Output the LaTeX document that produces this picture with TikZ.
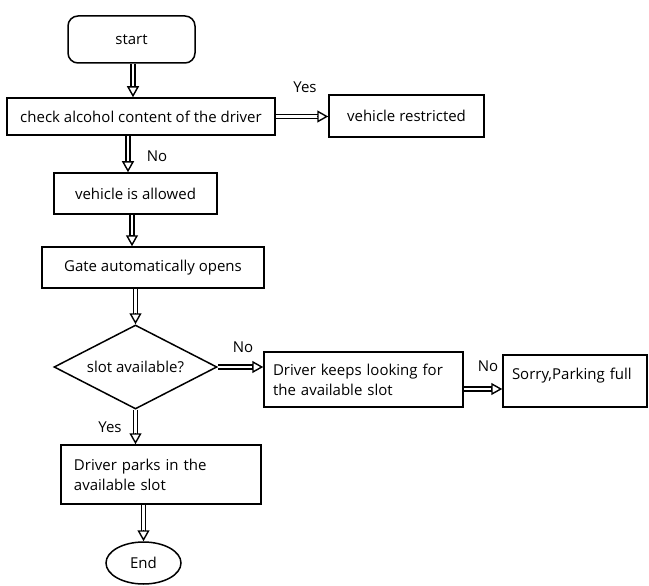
\documentclass[tikz,border=0pt]{standalone}
\usepackage{fontspec}
\setmainfont{Open Sans}
\usetikzlibrary{arrows.meta,calc,shapes.geometric}
\tikzset{
  box/.style={draw,line width=1.5pt,inner sep=0pt,font=\fontsize{15}{20}\selectfont},
  lbl/.style={font=\fontsize{15}{18}\selectfont,inner sep=0pt},
  shaft/.style={draw,line width=1.4pt,double=white,double distance=2.4pt,shorten >=10.5pt},
  headtip/.style={draw,line width=1.4pt,-{Triangle[open,length=11pt,width=12pt]}}
}
\newcommand\harr[2]{\draw[shaft] #1 -- #2; \draw[headtip] ($#2!11pt!#1$) -- #2;}
\begin{document}
\begin{tikzpicture}[x=1pt,y=-1pt]
\useasboundingbox (0,0) rectangle (649,586);
\node[box,rounded corners=10pt,minimum width=127pt,minimum height=47pt] (start) at (131.5,39.5) {start};
\node[box,minimum width=268pt,minimum height=37pt] (check) at (141,116.5) {check alcohol content of the driver};
\node[box,minimum width=155pt,minimum height=42pt] (restr) at (406.5,116) {vehicle restricted};
\node[box,minimum width=163pt,minimum height=41pt] (allowed) at (135.5,193.5) {vehicle is allowed};
\node[box,minimum width=222pt,minimum height=41pt] (gate) at (153,267.5) {Gate automatically opens};
\node[box,diamond,minimum width=163pt,minimum height=84pt,
      label={[lbl]center:slot available?}] (slot) at (135.5,367) {};
\node[box,minimum width=199pt,minimum height=55pt,text width=181pt,align=left] (keeps) at (363.5,379.5) {Driver keeps looking for\\the available slot};
\node[box,minimum width=144pt,minimum height=52pt,text width=126pt,align=left,text depth=14pt] (sorry) at (575,381) {Sorry,Parking full};
\node[box,minimum width=200pt,minimum height=59pt,text width=174pt,align=left] (parks) at (161,474.5) {Driver parks in the\\available slot};
\node[box,ellipse,minimum width=75pt,minimum height=42pt] (end) at (143.5,563) {End};

\node[lbl] (yes1) at (305,87) {Yes};
\node[lbl] (no1) at (157,156) {No};
\node[lbl] (no2) at (243,347) {No};
\node[lbl] (no3) at (488,366) {No};
\node[lbl] (yes2) at (110,427) {Yes};

\harr{(start.south -| 133,0)}{(check.north -| 133,0)}
\harr{(check.east)}{(restr.west |- check.east)}
\harr{(check.south -| 128,0)}{(allowed.north -| 128,0)}
\harr{(allowed.south -| 132,0)}{(gate.north -| 132,0)}
\harr{(gate.south -| slot.north)}{(slot.north)}
\harr{(slot.east)}{(keeps.west |- slot.east)}
\harr{(keeps.east |- 0,389)}{(sorry.west |- 0,389)}
\harr{(slot.south)}{(parks.north -| slot.south)}
\harr{(parks.south -| end.north)}{(end.north)}
\end{tikzpicture}
\end{document}
